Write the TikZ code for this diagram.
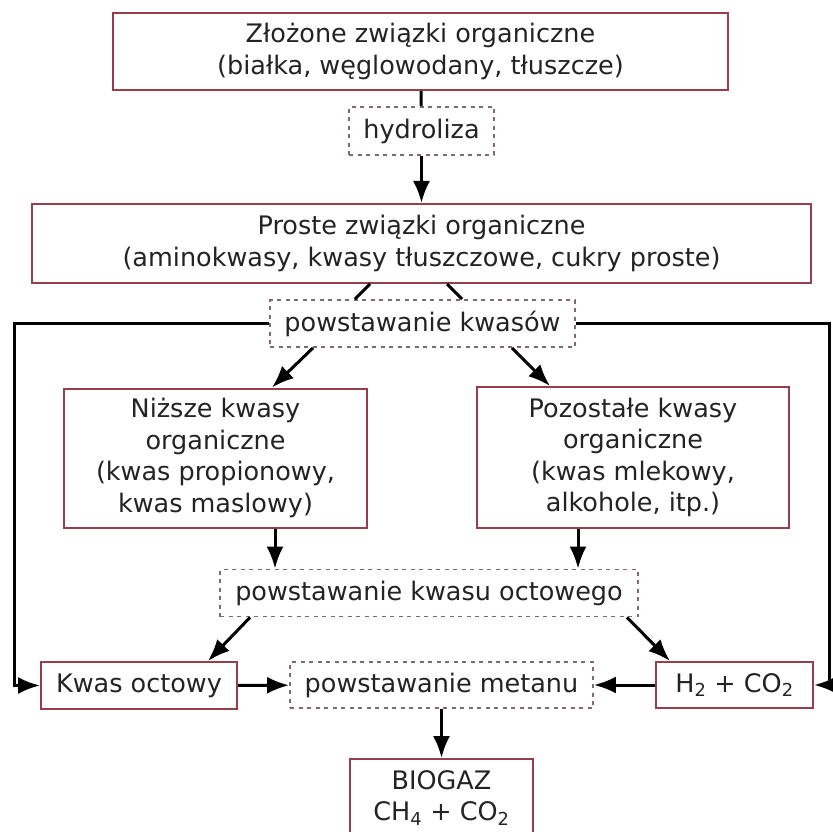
\documentclass[tikz,border=0pt]{standalone}
\usepackage{fontspec}
\setmainfont{DejaVu Sans}
\usetikzlibrary{arrows.meta}
\definecolor{ramka}{RGB}{150,62,78}
\definecolor{kreska}{RGB}{125,108,108}
\definecolor{tekst}{RGB}{35,35,35}
\tikzset{
	blok/.style={draw=ramka, line width=2pt, text=tekst, align=center,
		inner sep=0pt, font=\fontsize{25.5}{31.5}\selectfont},
	etap/.style={draw=kreska, line width=1.8pt, dash pattern=on 4pt off 4.5pt,
		text=tekst, align=center, inner sep=0pt, font=\fontsize{25.5}{31.5}\selectfont},
	strz/.style={line width=3pt, -{Latex[length=22pt,width=17pt]}},
	linia/.style={line width=3pt}
}
\begin{document}
\begin{tikzpicture}[x=1pt,y=-1pt]
\useasboundingbox (0,0) rectangle (833,832);

\node[blok, minimum width=615pt, minimum height=77pt] (zlozone) at (420.5,51.5)
	{Złożone związki organiczne\\(białka, węglowodany, tłuszcze)};
\node[etap, minimum width=145pt, minimum height=48pt] (hydroliza) at (421.5,131)
	{hydroliza};
\node[blok, minimum width=779pt, minimum height=79pt] (proste) at (421.5,243.5)
	{Proste związki organiczne\\(aminokwasy, kwasy tłuszczowe, cukry proste)};
\node[etap, minimum width=305pt, minimum height=47pt] (kwasow) at (422.5,323.5)
	{powstawanie kwasów};
\node[blok, minimum width=303pt, minimum height=139pt] (nizsze) at (215.5,458)
	{Niższe kwasy\\organiczne\\(kwas propionowy,\\kwas maslowy)};
\node[blok, minimum width=312pt, minimum height=141pt] (pozostale) at (633,457.5)
	{Pozostałe kwasy\\organiczne\\(kwas mlekowy,\\alkohole, itp.)};
\node[etap, minimum width=418pt, minimum height=47pt] (octowego) at (429,593)
	{powstawanie kwasu octowego};
\node[blok, minimum width=196pt, minimum height=47pt] (kwasoct) at (139,685.5)
	{Kwas octowy};
\node[etap, minimum width=303pt, minimum height=46pt] (metanu) at (441.5,685)
	{powstawanie metanu};
\node[blok, minimum width=157pt, minimum height=46pt] (h2co2) at (734.5,685)
	{H\textsubscript{2} + CO\textsubscript{2}};
\node[blok, minimum width=183pt, minimum height=78pt] (biogaz) at (441.5,798)
	{BIOGAZ\\CH\textsubscript{4} + CO\textsubscript{2}};

% petle boczne
\coordinate (lewo) at (14,323.5);
\coordinate (prawo) at (829,323.5);

\draw[linia] (zlozone) -- (hydroliza);
\draw[linia] ([xshift=-51.5pt]proste.south) -- ([xshift=-67.5pt]kwasow.north);
\draw[linia] ([xshift=25.5pt]proste.south) -- ([xshift=39.5pt]kwasow.north);

\path[strz]
(hydroliza) edge (proste)
([xshift=-109.5pt]kwasow.south) edge ([xshift=56.5pt]nizsze.north)
([xshift=89.5pt]kwasow.south) edge ([xshift=-83pt]pozostale.north)
([xshift=59.5pt]nizsze.south) edge ([xshift=-154pt]octowego.north)
([xshift=-55pt]pozostale.south) edge ([xshift=149pt]octowego.north)
([xshift=-179pt]octowego.south) edge ([xshift=69pt]kwasoct.north)
([xshift=198pt]octowego.south) edge ([xshift=-64.5pt]h2co2.north)
(kwasoct) edge (metanu)
(h2co2) edge (metanu)
(metanu) edge (biogaz);

\draw[strz] (kwasow.west) -- (lewo) |- (kwasoct.west);
\draw[strz] (kwasow.east) -- (prawo) |- (h2co2.east);
\end{tikzpicture}
\end{document}
